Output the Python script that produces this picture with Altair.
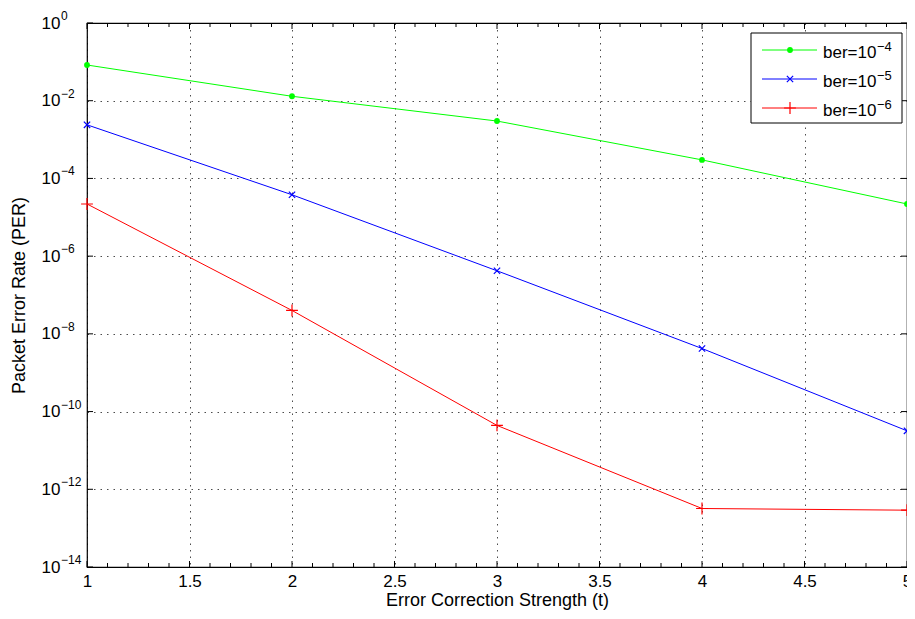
import altair as alt
import pandas as pd

# ---- data ----
t_vals = [1, 2, 3, 4, 5]
ber4 = [8.3e-2, 1.3e-2, 3.0e-3, 3.0e-4, 2.2e-5]
ber5 = [2.4e-3, 3.8e-5, 4.2e-7, 4.2e-9, 3.2e-11]
ber6 = [2.2e-5, 4.0e-8, 4.4e-11, 3.2e-13, 2.9e-13]
series_names = ["ber=10^-4", "ber=10^-5", "ber=10^-6"]
legend_base = ["ber=10", "ber=10", "ber=10"]
legend_exp = ["−4", "−5", "−6"]
series_colors = ["#00FF00", "#0000FF", "#FF0000"]

x_ticks = [1, 1.5, 2, 2.5, 3, 3.5, 4, 4.5, 5]
x_minor = [1.1, 1.2, 1.3, 1.4, 1.6, 1.7, 1.8, 1.9, 2.1, 2.2, 2.3, 2.4,
           2.6, 2.7, 2.8, 2.9, 3.1, 3.2, 3.3, 3.4, 3.6, 3.7, 3.8, 3.9,
           4.1, 4.2, 4.3, 4.4, 4.6, 4.7, 4.8, 4.9]
y_ticks = [1e-14, 1e-12, 1e-10, 1e-8, 1e-6, 1e-4, 1e-2, 1]
y_exps = ["−14", "−12", "−10", "−8", "−6", "−4", "−2", "0"]

W, H = 820, 544
FONT = "Liberation Sans"

rows = []
for name, vals in zip(series_names, [ber4, ber5, ber6]):
    for t, v in zip(t_vals, vals):
        rows.append({"series": name, "t": t, "PER": v})
df = pd.DataFrame(rows)

xscale = alt.Scale(domain=[1, 5], nice=False, zero=False)
yscale = alt.Scale(type="log", domain=[1e-14, 1], nice=False)

xaxis = alt.Axis(values=x_ticks, title="Error Correction Strength (t)",
                 labelExpr="format(datum.value, '~g')", labelFlush=False,
                 grid=True, gridDash=[1.5, 5], gridColor="#000", gridOpacity=0.7,
                 ticks=False, domain=False, labelPadding=6, titlePadding=2,
                 labelFontSize=17, titleFontSize=18, titleFontWeight="normal",
                 labelFont=FONT, titleFont=FONT, labelColor="black", titleColor="black")
yaxis = alt.Axis(values=y_ticks, title="Packet Error Rate (PER)",
                 labelExpr="'10'", labelFlush=False,
                 grid=True, gridDash=[1.5, 5], gridColor="#000", gridOpacity=0.7,
                 ticks=False, domain=False, labelPadding=27, titlePadding=13,
                 labelFontSize=17, titleFontSize=18, titleFontWeight="normal",
                 labelFont=FONT, titleFont=FONT, labelColor="black", titleColor="black")

X = alt.X("t:Q", scale=xscale, axis=xaxis)
Y = alt.Y("PER:Q", scale=yscale, axis=yaxis)

base = alt.Chart(df)
layers = [base.mark_point(opacity=0).encode(x=X, y=Y)]

# exponent part of the y tick labels
ylab = pd.DataFrame({"PER": y_ticks, "exp": y_exps})
layers.append(alt.Chart(ylab).mark_text(
    align="left", baseline="middle", fontSize=12, font=FONT, color="black", dy=-7).encode(
    y=Y, x=alt.value(-26), text="exp:N"))

# inward ticks
xmaj = pd.DataFrame({"t": x_ticks})
xmin = pd.DataFrame({"t": x_minor})
ymaj = pd.DataFrame({"PER": y_ticks})
for d, ln in [(xmaj, 6), (xmin, 4)]:
    layers.append(alt.Chart(d).mark_rule(color="black", strokeWidth=1).encode(
        x=X, y=alt.value(H), y2=alt.value(H - ln)))
    layers.append(alt.Chart(d).mark_rule(color="black", strokeWidth=1).encode(
        x=X, y=alt.value(0), y2=alt.value(ln)))
layers.append(alt.Chart(ymaj).mark_rule(color="black", strokeWidth=1).encode(
    y=Y, x=alt.value(0), x2=alt.value(6)))
layers.append(alt.Chart(ymaj).mark_rule(color="black", strokeWidth=1).encode(
    y=Y, x=alt.value(W), x2=alt.value(W - 6)))

marker_specs = [
    dict(shape="circle", size=34, filled=True, strokeWidth=0),
    dict(shape="M-1,-1L1,1M-1,1L1,-1", size=40, filled=False, strokeWidth=1.2),
    dict(shape="M-1,0L1,0M0,-1L0,1", size=140, filled=False, strokeWidth=1.2),
]

for name, col, ms in zip(series_names, series_colors, marker_specs):
    sub = base.transform_filter(alt.datum.series == name)
    layers.append(sub.mark_line(color=col, strokeWidth=1, clip=False).encode(x=X, y=Y))
    layers.append(sub.mark_point(color=col, opacity=1, clip=False, **ms).encode(x=X, y=Y))

# manual legend (top-right box)
lg_x0, lg_x1, lg_y0, lg_y1 = 664, 815, 10, 100
layers.append(alt.Chart(pd.DataFrame({"a": [0]})).mark_rect(
    fill="white", stroke="black", strokeWidth=1).encode(
    x=alt.value(lg_x0), x2=alt.value(lg_x1), y=alt.value(lg_y0), y2=alt.value(lg_y1)))
row_y = [27, 56, 85]
for lb, le, col, ms, ry in zip(legend_base, legend_exp, series_colors, marker_specs, row_y):
    one = alt.Chart(pd.DataFrame({"b": [lb], "e": [le]}))
    layers.append(one.mark_rule(color=col, strokeWidth=1).encode(
        x=alt.value(675), x2=alt.value(730), y=alt.value(ry)))
    layers.append(one.mark_point(color=col, opacity=1, **ms).encode(
        x=alt.value(703), y=alt.value(ry)))
    layers.append(one.mark_text(align="left", baseline="middle", fontSize=17,
                                font=FONT, color="black").encode(
        x=alt.value(736), y=alt.value(ry + 3), text="b:N"))
    layers.append(one.mark_text(align="left", baseline="middle", fontSize=13,
                                font=FONT, color="black").encode(
        x=alt.value(790), y=alt.value(ry - 3), text="e:N"))

chart = alt.layer(*layers).properties(
    width=W, height=H,
    autosize=alt.AutoSizeParams(type="none"),
    padding={"left": 79, "top": 15, "right": 0, "bottom": 43},
).configure(background="white").configure_view(stroke="black", strokeWidth=1.2)

chart.save("out.html", embed_options={"renderer": "svg", "actions": False})
